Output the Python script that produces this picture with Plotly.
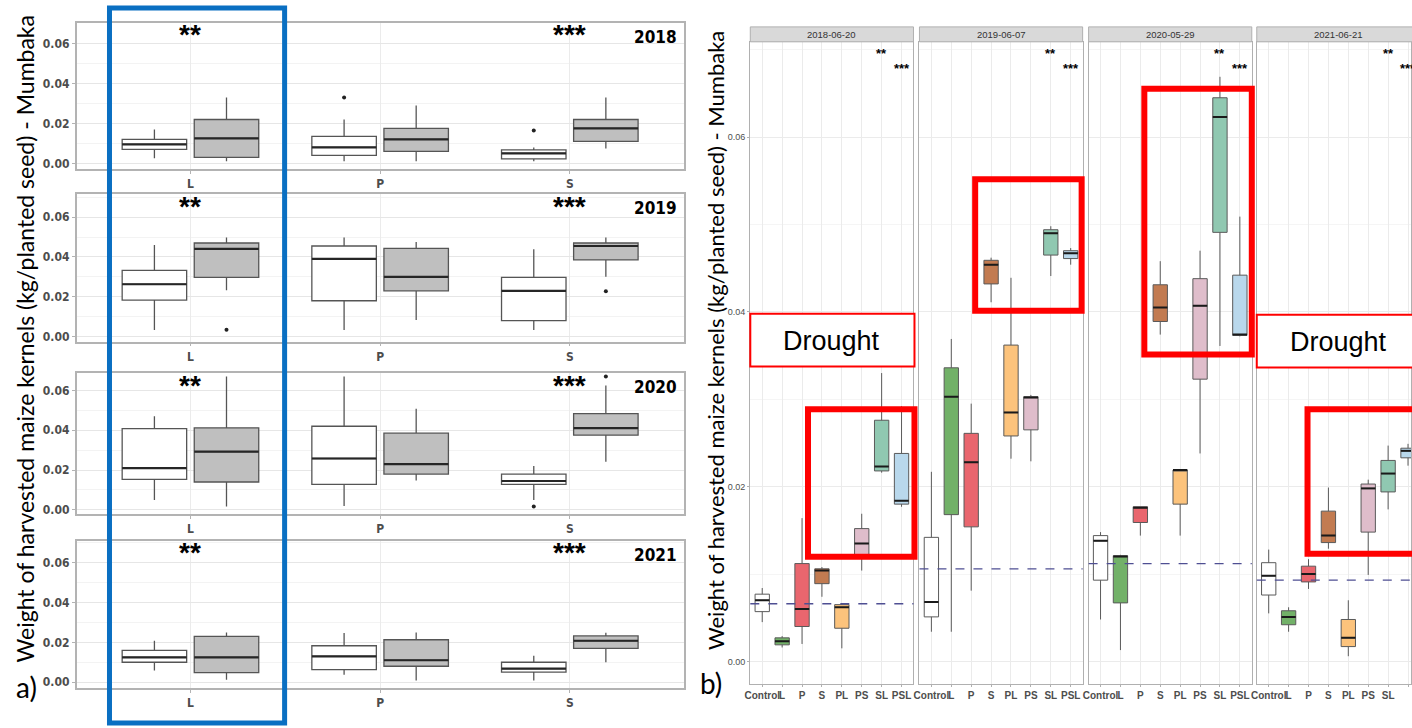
import plotly.graph_objects as go

W, H = 1412, 728


def px(v):
    return v / W


def py(v):
    return 1 - v / H


# ---------------- Panel a) data : (lower whisker, q1, median, q3, upper whisker) for L, P, S
years_a = ["2018", "2019", "2020", "2021"]
cats_a = ["L", "P", "S"]

white_2018 = [(0.0025, 0.0070, 0.0095, 0.0120, 0.0170), (0.0010, 0.0040, 0.0080, 0.0135, 0.0220), (0.0010, 0.0022, 0.0050, 0.0068, 0.0080)]
grey_2018 = [(0.0010, 0.0030, 0.0125, 0.0220, 0.0330), (0.0010, 0.0060, 0.0120, 0.0175, 0.0290), (0.0075, 0.0110, 0.0175, 0.0220, 0.0330)]
white_2019 = [(0.0033, 0.0183, 0.0263, 0.0333, 0.0460), (0.0033, 0.0180, 0.0390, 0.0455, 0.0497), (0.0033, 0.0080, 0.0230, 0.0297, 0.0438)]
grey_2019 = [(0.0233, 0.0297, 0.0440, 0.0470, 0.0497), (0.0083, 0.0230, 0.0300, 0.0443, 0.0475), (0.0300, 0.0385, 0.0455, 0.0470, 0.0497)]
white_2020 = [(0.0050, 0.0153, 0.0210, 0.0408, 0.0470), (0.0020, 0.0128, 0.0258, 0.0420, 0.0670), (0.0050, 0.0128, 0.0145, 0.0180, 0.0220)]
grey_2020 = [(0.0017, 0.0140, 0.0293, 0.0412, 0.0670), (0.0147, 0.0180, 0.0230, 0.0385, 0.0508), (0.0242, 0.0375, 0.0410, 0.0483, 0.0625)]
white_2021 = [(0.0058, 0.0100, 0.0125, 0.0160, 0.0208), (0.0037, 0.0063, 0.0130, 0.0183, 0.0247), (0.0008, 0.0050, 0.0068, 0.0100, 0.0133)]
grey_2021 = [(0.0012, 0.0048, 0.0125, 0.0230, 0.0250), (0.0008, 0.0080, 0.0110, 0.0213, 0.0250), (0.0100, 0.0170, 0.0208, 0.0232, 0.0248)]

# outliers: (group, category, value)
out_2018 = [("white", "P", 0.0330), ("white", "S", 0.0165)]
out_2019 = [("grey", "L", 0.0035), ("grey", "S", 0.0228)]
out_2020 = [("white", "S", 0.0017), ("grey", "S", 0.0670)]
out_2021 = []

# ---------------- Panel b) data
dates_b = ["2018-06-20", "2019-06-07", "2020-05-29", "2021-06-21"]
cats_b = ["Control", "L", "P", "S", "PL", "PS", "SL", "PSL"]
colors_b = ["#ffffff", "#72b168", "#e9666e", "#c27b51", "#fcc37c", "#dfbdcb", "#90c8b1", "#b9d8ec"]

b_2018 = [(0.0045, 0.0057, 0.0070, 0.0077, 0.0084), (0.0016, 0.0019, 0.0023, 0.0027, 0.0029),
          (0.0020, 0.0040, 0.0060, 0.0112, 0.0164), (0.0074, 0.0089, 0.0104, 0.0106, 0.0108),
          (0.0015, 0.0038, 0.0062, 0.0065, 0.0066), (0.0104, 0.0121, 0.0135, 0.0152, 0.0169),
          (0.0216, 0.0218, 0.0223, 0.0276, 0.0330), (0.0177, 0.0180, 0.0184, 0.0238, 0.0292)]
b_2019 = [(0.0034, 0.0051, 0.0068, 0.0142, 0.0217), (0.0034, 0.0168, 0.0303, 0.0336, 0.0369),
          (0.0081, 0.0154, 0.0228, 0.0261, 0.0295), (0.0411, 0.0432, 0.0454, 0.0459, 0.0462),
          (0.0232, 0.0258, 0.0285, 0.0362, 0.0439), (0.0229, 0.0265, 0.0302, 0.0303, 0.0305),
          (0.0441, 0.0465, 0.0490, 0.0494, 0.0498), (0.0454, 0.0461, 0.0467, 0.0470, 0.0473)]
b_2020 = [(0.0048, 0.0093, 0.0138, 0.0144, 0.0148), (0.0013, 0.0067, 0.0120, 0.0121, 0.0122),
          (0.0144, 0.0159, 0.0176, 0.0177, 0.0177), (0.0374, 0.0389, 0.0405, 0.0431, 0.0458),
          (0.0144, 0.0180, 0.0219, 0.0219, 0.0219), (0.0238, 0.0323, 0.0407, 0.0438, 0.0470),
          (0.0361, 0.0491, 0.0623, 0.0645, 0.0669), (0.0372, 0.0373, 0.0374, 0.0442, 0.0509)]
b_2021 = [(0.0055, 0.0076, 0.0098, 0.0113, 0.0128), (0.0034, 0.0042, 0.0051, 0.0058, 0.0062),
          (0.0083, 0.0091, 0.0100, 0.0109, 0.0117), (0.0129, 0.0136, 0.0144, 0.0172, 0.0199),
          (0.0006, 0.0017, 0.0027, 0.0048, 0.0070), (0.0099, 0.0148, 0.0198, 0.0203, 0.0208),
          (0.0174, 0.0194, 0.0215, 0.0230, 0.0247), (0.0224, 0.0233, 0.0241, 0.0244, 0.0249)]
control_mean = [0.0066, 0.0106, 0.0112, 0.0093]

y_ticks = [0.00, 0.02, 0.04, 0.06]

# ---------------- layout geometry
NARROW = "Liberation Sans Narrow, DejaVu Sans Condensed, Roboto, Arial, sans-serif"
SANS = "Liberation Sans, Arial, sans-serif"
TITLE_FONT = "Lato, Open Sans, sans-serif"

left_x_px = (71, 681)
left_y_px = [(23, 170), (195, 343), (375, 516), (543, 691)]
left_ranges = [(-0.003, 0.0705), (-0.0025, 0.0715), (-0.002, 0.0685), (-0.003, 0.071)]
right_x_px = [(748, 912), (918, 1082), (1088, 1252), (1257, 1412)]
right_xranges = [(0.4, 8.6), (0.4, 8.6), (0.4, 8.6), (0.4, 8.15)]
right_y_px = (42, 687)
right_range = (-0.0026, 0.0709)

fig = go.Figure()
layout = dict(width=W, height=H, margin=dict(l=0, r=0, t=0, b=0), paper_bgcolor="white",
              plot_bgcolor="white", showlegend=False, boxmode="overlay")
shapes = []
annotations = []


def add_median(n, xs, meds, w, color, width):
    mx, my = [], []
    for xc, m in zip(xs, meds):
        mx += [xc - w / 2, xc + w / 2, None]
        my += [m, m, None]
    fig.add_trace(go.Scatter(x=mx, y=my, mode="lines", line=dict(color=color, width=width),
                             xaxis=f"x{n}", yaxis=f"y{n}", hoverinfo="skip", showlegend=False))


# ---------------- Panel a)
a_sets = [(white_2018, grey_2018, out_2018), (white_2019, grey_2019, out_2019),
          (white_2020, grey_2020, out_2020), (white_2021, grey_2021, out_2021)]
A_OFF, A_W = 0.19, 0.34
for i, (wh, gr, outs) in enumerate(a_sets):
    n = i + 1
    for stats, off, fill in ((wh, -A_OFF, "#ffffff"), (gr, A_OFF, "#bfbfbf")):
        xs = [k + 1 + off for k in range(len(cats_a))]
        fig.add_trace(go.Box(
            x=xs, lowerfence=[s[0] for s in stats], q1=[s[1] for s in stats],
            median=[s[2] for s in stats], q3=[s[3] for s in stats],
            upperfence=[s[4] for s in stats], width=A_W, whiskerwidth=0,
            fillcolor=fill, line=dict(color="#555555", width=1.3), boxpoints=False,
            xaxis=f"x{n}", yaxis=f"y{n}", hoverinfo="skip", showlegend=False))
        add_median(n, xs, [s[2] for s in stats], A_W, "#262626", 2.2)
    if outs:
        ox = [cats_a.index(c) + 1 + (-A_OFF if g == "white" else A_OFF) for g, c, v in outs]
        oy = [v for g, c, v in outs]
        fig.add_trace(go.Scatter(x=ox, y=oy, mode="markers", marker=dict(color="#222222", size=4),
                                 xaxis=f"x{n}", yaxis=f"y{n}", hoverinfo="skip", showlegend=False))
    top, bot = left_y_px[i]
    layout[f"xaxis{n}"] = dict(domain=[px(left_x_px[0]), px(left_x_px[1])], anchor=f"y{n}",
                               range=[0.4, 3.6], tickvals=[1, 2, 3], ticktext=cats_a,
                               showgrid=True, gridcolor="#ebebeb", gridwidth=1,
                               zeroline=False, showline=True, mirror=True, linecolor="#b3b3b3", linewidth=1.5,
                               ticks="outside", ticklen=3, tickcolor="#b3b3b3", tickangle=0,
                               tickfont=dict(family=NARROW, size=12, color="#4d4d4d", weight="bold"))
    layout[f"yaxis{n}"] = dict(domain=[py(bot), py(top)], anchor=f"x{n}", range=list(left_ranges[i]),
                               tickvals=y_ticks, tickformat=".2f", showgrid=True, gridcolor="#e6e6e6",
                               gridwidth=1, zeroline=False, showline=True, mirror=True,
                               linecolor="#b3b3b3", linewidth=1.5, ticks="outside", ticklen=3,
                               tickcolor="#b3b3b3",
                               minor=dict(dtick=0.01, tick0=0, showgrid=True, gridcolor="#f3f3f3"),
                               tickfont=dict(family=NARROW, size=12, color="#4d4d4d", weight="bold"))
    # significance stars and year
    annotations.append(dict(x=1, y=py(top + 12), xref=f"x{n}", yref="paper", text="**", showarrow=False,
                            font=dict(family=SANS, size=28, color="black", weight="bold"),
                            xanchor="center", yanchor="middle"))
    annotations.append(dict(x=3, y=py(top + 12), xref=f"x{n}", yref="paper", text="***", showarrow=False,
                            font=dict(family=SANS, size=28, color="black", weight="bold"),
                            xanchor="center", yanchor="middle"))
    annotations.append(dict(x=px(676), y=py(top + 14), xref="paper", yref="paper", text=years_a[i],
                            showarrow=False, font=dict(family=NARROW, size=17, color="black", weight="bold"),
                            xanchor="right", yanchor="middle"))

# ---------------- Panel b)
b_sets = [b_2018, b_2019, b_2020, b_2021]
B_W = 0.72
for i, stats in enumerate(b_sets):
    n = i + 5
    for k, s in enumerate(stats):
        fig.add_trace(go.Box(
            x=[k + 1], lowerfence=[s[0]], q1=[s[1]], median=[s[2]], q3=[s[3]], upperfence=[s[4]],
            width=B_W, whiskerwidth=0, fillcolor=colors_b[k], line=dict(color="#5a5a5a", width=1),
            boxpoints=False, xaxis=f"x{n}", yaxis=f"y{n}", hoverinfo="skip", showlegend=False))
    add_median(n, [k + 1 for k in range(len(stats))], [s[2] for s in stats], B_W, "#1a1a1a", 2)
    x0, x1 = right_x_px[i]
    layout[f"xaxis{n}"] = dict(domain=[px(x0), px(x1)], anchor=f"y{n}", range=list(right_xranges[i]),
                               tickvals=list(range(1, 9)), ticktext=cats_b, showgrid=True,
                               gridcolor="#ebebeb", zeroline=False, showline=True, mirror=True,
                               linecolor="#b0b0b0", linewidth=1.3, ticks="outside", ticklen=2,
                               tickcolor="#b0b0b0", tickangle=0,
                               tickfont=dict(family=SANS, size=10, color="#4d4d4d", weight="bold"))
    layout[f"yaxis{n}"] = dict(domain=[py(right_y_px[1]), py(right_y_px[0])], anchor=f"x{n}",
                               range=list(right_range), tickvals=y_ticks, tickformat=".2f",
                               showticklabels=(i == 0), showgrid=True, gridcolor="#ebebeb", zeroline=False,
                               showline=True, mirror=True, linecolor="#b0b0b0", linewidth=1.3,
                               ticks="outside" if i == 0 else "", ticklen=2, tickcolor="#b0b0b0",
                               minor=dict(dtick=0.01, tick0=0, showgrid=True, gridcolor="#f5f5f5"),
                               tickfont=dict(family=SANS, size=9, color="#4d4d4d"))
    # control mean dashed line
    shapes.append(dict(type="line", xref=f"x{n} domain", yref=f"y{n}", x0=0, x1=1,
                       y0=control_mean[i], y1=control_mean[i],
                       line=dict(color="#4f4f93", width=1.3, dash="dash"), layer="above"))
    # facet strip
    shapes.append(dict(type="rect", xref="paper", yref="paper", x0=px(x0), x1=px(x1 if i < 3 else 1425),
                       y0=py(42), y1=py(27), fillcolor="#d9d9d9", line=dict(color="#b0b0b0", width=1)))
    annotations.append(dict(x=px((x0 + (x1 if i < 3 else 1422)) / 2), y=py(34.5), xref="paper", yref="paper",
                            text=dates_b[i], showarrow=False,
                            font=dict(family=SANS, size=9.5, color="#333333"),
                            xanchor="center", yanchor="middle"))
    annotations.append(dict(x=7, y=0.0696, xref=f"x{n}", yref=f"y{n}", text="**", showarrow=False,
                            font=dict(family=SANS, size=13, color="black", weight="bold"),
                            xanchor="center", yanchor="middle"))
    annotations.append(dict(x=8, y=0.0678, xref=f"x{n}", yref=f"y{n}", text="***", showarrow=False,
                            font=dict(family=SANS, size=13, color="black", weight="bold"),
                            xanchor="center", yanchor="middle"))

# ---------------- titles and labels
TITLE = "Weight of harvested maize kernels (kg/planted seed) - Mumbaka"
annotations.append(dict(x=px(19), y=py(340), xref="paper", yref="paper", text=TITLE, textangle=-90,
                        showarrow=False, font=dict(family=TITLE_FONT, size=23, color="black"),
                        xanchor="center", yanchor="middle"))
annotations.append(dict(x=px(713), y=py(342), xref="paper", yref="paper", text=TITLE, textangle=-90,
                        showarrow=False, font=dict(family=TITLE_FONT, size=22, color="black"),
                        xanchor="center", yanchor="middle"))
annotations.append(dict(x=px(8), y=py(690), xref="paper", yref="paper", text="a)", showarrow=False,
                        font=dict(family=TITLE_FONT, size=28, color="black"), xanchor="left", yanchor="middle"))
annotations.append(dict(x=px(695), y=py(686), xref="paper", yref="paper", text="b)", showarrow=False,
                        font=dict(family=TITLE_FONT, size=28, color="black"), xanchor="left", yanchor="middle"))

# ---------------- highlight boxes
shapes.append(dict(type="rect", xref="paper", yref="paper", x0=px(104), x1=px(280), y0=py(726), y1=py(8),
                   line=dict(color="#0a6fc2", width=5), fillcolor="rgba(0,0,0,0)", layer="above"))
red_boxes = [(806, 913, 411, 559), (974, 1081, 180, 312), (1144, 1252, 89, 356), (1308, 1430, 411, 556)]
for x0, x1, y0, y1 in red_boxes:
    shapes.append(dict(type="rect", xref="paper", yref="paper", x0=px(x0), x1=px(x1), y0=py(y1), y1=py(y0),
                       line=dict(color="#ff0000", width=6), fillcolor="rgba(0,0,0,0)", layer="above"))
drought_boxes = [(748, 913, 315, 368), (1257, 1430, 316, 369)]
for x0, x1, y0, y1 in drought_boxes:
    shapes.append(dict(type="rect", xref="paper", yref="paper", x0=px(x0), x1=px(x1), y0=py(y1), y1=py(y0),
                       line=dict(color="#ff0000", width=2), fillcolor="white", layer="above"))
annotations.append(dict(x=px(830), y=py(342), xref="paper", yref="paper", text="Drought", showarrow=False,
                        font=dict(family=SANS, size=27, color="black"), xanchor="center", yanchor="middle"))
annotations.append(dict(x=px(1339), y=py(343), xref="paper", yref="paper", text="Drought", showarrow=False,
                        font=dict(family=SANS, size=27, color="black"), xanchor="center", yanchor="middle"))

layout["shapes"] = shapes
layout["annotations"] = annotations
fig.update_layout(**layout)
fig.write_html("out.html", config={"displayModeBar": False},
               post_script="document.body.style.margin='0';document.body.style.overflow='hidden';")
